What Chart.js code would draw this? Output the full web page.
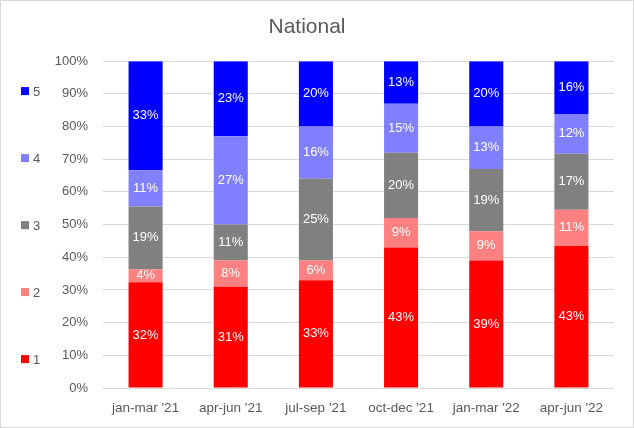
<!DOCTYPE html>
<html>
<head>
<meta charset="utf-8">
<title>National</title>
<script src="https://cdn.jsdelivr.net/npm/chart.js@4.4.1/dist/chart.umd.min.js"></script>
<style>
    html, body { margin: 0; padding: 0; background: #fff; }
    #wrap { width: 634px; height: 428px; position: relative; }
</style>
</head>
<body>
<div id="wrap"><canvas id="national-chart" width="634" height="428"></canvas></div>
<script>
// Quarters on the x axis
const categories = ["jan-mar '21", "apr-jun '21", "jul-sep '21", "oct-dec '21", "jan-mar '22", "apr-jun '22"];

// Share of answers per score (percent, as labelled)
const score1 = [32, 31, 33, 43, 39, 43];
const score2 = [4, 8, 6, 9, 9, 11];
const score3 = [19, 11, 25, 20, 19, 17];
const score4 = [11, 27, 16, 15, 13, 12];
const score5 = [33, 23, 20, 13, 20, 16];

const seriesNames = ['1', '2', '3', '4', '5'];
const seriesColors = ['#ff0000', '#ff8080', '#808080', '#8080ff', '#0000ff'];
const yTicks = [0, 10, 20, 30, 40, 50, 60, 70, 80, 90, 100];

(function() {
    'use strict';

    const TEXT = '#595959';
    const FONT = "'Liberation Sans', Arial, sans-serif";
    const raw = [score1, score2, score3, score4, score5];

    // 100% stacked: each column is scaled to its own total
    const totals = categories.map(function(_, i) {
        return raw.reduce(function(s, arr) { return s + arr[i]; }, 0);
    });

    const datasets = raw.map(function(arr, k) {
        return {
            label: seriesNames[k],
            data: arr.map(function(v, i) { return v / totals[i] * 100; }),
            rawValues: arr,
            backgroundColor: seriesColors[k],
            borderWidth: 0,
            barPercentage: 0.4,
            categoryPercentage: 1.0
        };
    });

    // White background and thin frame like the Excel chart area
    const frame = {
        id: 'frame',
        beforeDraw: function(chart) {
            const ctx = chart.ctx;
            ctx.save();
            ctx.fillStyle = '#ffffff';
            ctx.fillRect(0, 0, chart.width, chart.height);
            ctx.strokeStyle = '#d9d9d9';
            ctx.lineWidth = 1;
            ctx.strokeRect(0.5, 0.5, chart.width - 1, chart.height - 1);
            ctx.restore();
        }
    };

    // Percentage labels in the middle of each segment
    const segmentLabels = {
        id: 'segmentLabels',
        afterDatasetsDraw: function(chart) {
            const ctx = chart.ctx;
            ctx.save();
            ctx.fillStyle = '#ffffff';
            ctx.font = '13px ' + FONT;
            ctx.textAlign = 'center';
            ctx.textBaseline = 'middle';
            chart.data.datasets.forEach(function(ds, k) {
                chart.getDatasetMeta(k).data.forEach(function(bar, i) {
                    const v = ds.rawValues[i];
                    ctx.fillText(v + '%', bar.x, (bar.y + bar.base) / 2);
                });
            });
            ctx.restore();
        }
    };

    // Legend on the left, spread out vertically, top item = last series
    const sideLegend = {
        id: 'sideLegend',
        afterDraw: function(chart) {
            const ctx = chart.ctx;
            const area = chart.chartArea;
            const mid = (area.top + area.bottom) / 2 + 0.5;
            const step = 67;
            const n = chart.data.datasets.length;
            ctx.save();
            ctx.font = '13px ' + FONT;
            ctx.textAlign = 'left';
            ctx.textBaseline = 'middle';
            for (let k = n - 1, row = 0; k >= 0; k--, row++) {
                const cy = mid + (row - (n - 1) / 2) * step;
                ctx.fillStyle = chart.data.datasets[k].backgroundColor;
                ctx.fillRect(21, cy - 4, 8, 8);
                ctx.fillStyle = TEXT;
                ctx.fillText(chart.data.datasets[k].label, 33, cy + 1);
            }
            ctx.restore();
        }
    };

    new Chart(document.getElementById('national-chart'), {
        type: 'bar',
        data: {
            labels: categories,
            datasets: datasets
        },
        plugins: [frame, segmentLabels, sideLegend],
        options: {
            responsive: false,
            animation: false,
            layout: {
                padding: { left: 0, right: 20, top: 0, bottom: 0 }
            },
            plugins: {
                legend: { display: false },
                tooltip: { enabled: false },
                title: {
                    display: true,
                    text: 'National',
                    color: TEXT,
                    font: { family: FONT, size: 21, weight: 'normal' },
                    padding: { top: 15, bottom: 21 }
                }
            },
            scales: {
                x: {
                    stacked: true,
                    grid: { display: false },
                    border: { display: false },
                    afterFit: function(scale) {
                        scale.height = 40;
                    },
                    ticks: {
                        color: TEXT,
                        padding: 4,
                        font: { family: FONT, size: 13.5 }
                    }
                },
                y: {
                    stacked: true,
                    min: 0,
                    max: 100,
                    afterBuildTicks: function(scale) {
                        scale.ticks = yTicks.map(function(v) { return { value: v }; });
                    },
                    afterFit: function(scale) {
                        scale.width = 103;
                    },
                    grid: {
                        color: '#d9d9d9',
                        drawTicks: false
                    },
                    border: { display: false },
                    ticks: {
                        color: TEXT,
                        padding: 15,
                        font: { family: FONT, size: 13 },
                        callback: function(v) { return v + '%'; }
                    }
                }
            }
        }
    });
})();
</script>
</body>
</html>
